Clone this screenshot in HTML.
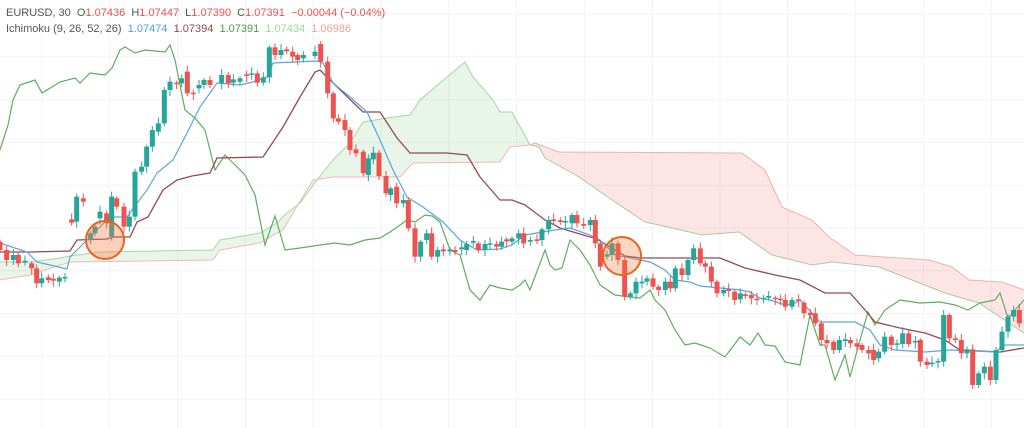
<!DOCTYPE html>
<html><head><meta charset="utf-8"><style>
html,body{margin:0;padding:0;background:#fff;width:1024px;height:428px;overflow:hidden}
#hdr{position:absolute;left:6px;top:5px;font:11px "Liberation Sans",sans-serif;color:#555;line-height:16px}
.r{color:#ef5350}
</style></head><body>
<svg id="s" width="1024" height="428" style="position:absolute;left:0;top:0">
<g stroke="#f0f3f6" stroke-width="1" id="grid"></g>
<polygon fill="rgba(76,175,80,0.13)" points="0,262 30,262 60,258 70,256 100,252 213,250 220,240 260,233 277,223 287,213 300,203 317,180 333,160 350,143 363,122 387,118 410,115 420,100 440,83 465,62 473,77 493,100 500,112 512,112 530,145 510,147 500,162 413,163 400,177 333,177 313,180 293,213 283,230 277,233 260,243 220,250 213,260 70,262 30,275 0,280"/>
<polyline fill="none" stroke="#a5d6a7" stroke-width="1" points="0,262 30,262 60,258 70,256 100,252 213,250 220,240 260,233 277,223 287,213 300,203 317,180 333,160 350,143 363,122 387,118 410,115 420,100 440,83 465,62 473,77 493,100 500,112 512,112 530,145 539,147 545,158 579,177 612,200 645,222 672,228 702,235 739,232 772,255 812,265 832,262 879,267 912,280 945,293 979,303 1024,333"/>
<polyline fill="none" stroke="#f2b8b5" stroke-width="1" points="0,280 30,275 70,262 213,260 220,250 260,243 277,233 283,230 293,213 313,180 333,177 400,177 413,163 500,162 510,147 530,145 535,143 559,152 742,153 765,170 782,207 812,220 829,237 855,255 929,260 952,267 969,280 1002,282 1024,290"/>
<polygon fill="rgba(239,83,80,0.15)" points="530,145 535,143 559,152 742,153 765,170 782,207 812,220 829,237 855,255 929,260 952,267 969,280 1002,282 1024,290 1024,333 979,303 945,293 912,280 879,267 832,262 812,265 772,255 739,232 702,235 672,228 645,222 612,200 579,177 545,158 539,147"/>
<polyline fill="none" stroke="#5fae5f" stroke-width="1.2" points="0,150 8,125 13,100 20,85 35,80 42,93 60,82 75,78 80,83 90,73 105,75 112,68 120,50 125,47 135,53 145,50 165,52 170,45 175,60 185,110 195,118 205,130 215,170 225,155 235,165 245,175 255,195 265,245 275,216 285,250 300,248 320,245 335,243 350,245 365,240 380,238 390,232 400,225 407,220 415,222 425,215 432,216 440,222 450,250 460,255 470,290 480,300 490,285 500,288 512,290 520,285 525,280 530,290 545,250 550,265 555,270 562,268 570,240 580,250 590,265 600,285 615,295 630,297 640,298 650,290 655,300 665,310 675,330 685,345 695,343 710,348 725,357 740,337 750,345 758,333 765,345 775,346 785,362 800,365 810,315 820,345 825,345 835,380 845,355 850,377 860,340 868,312 875,325 885,310 900,300 920,303 940,302 955,305 968,310 980,303 995,300 1000,293 1008,318 1024,300"/>
<polyline fill="none" stroke="#954a50" stroke-width="1.3" points="0,252 30,252 70,251 77,240 107,239 113,237 130,237 137,222 148,217 163,190 177,180 192,176 210,173 217,158 263,157 283,127 300,97 315,72 320,70 330,80 363,112 380,112 397,138 410,153 447,153 467,155 480,177 493,192 500,200 512,200 525,205 545,220 560,228 590,237 595,238 625,256 640,258 720,258 745,268 775,275 800,280 825,293 850,293 865,310 875,322 900,328 925,333 945,340 960,350 1000,352 1024,348"/>
<polyline fill="none" stroke="#5aa6e0" stroke-width="1.2" points="0,243 27,252 37,262 67,269 70,257 85,242 110,217 127,217 137,203 147,190 157,173 173,160 187,133 200,107 217,83 240,85 253,82 267,77 273,63 317,61 323,63 333,83 350,97 367,112 380,140 393,170 407,197 423,207 443,222 460,240 477,250 500,249 512,245 525,235 555,230 570,228 590,235 600,240 615,255 640,260 650,262 665,270 675,280 690,282 700,286 740,290 750,292 760,298 770,300 785,305 795,303 800,300 820,322 855,322 870,330 880,345 895,350 925,352 950,350 995,352 1005,345 1024,345"/>
<g id="c"></g>
<circle cx="105" cy="240" r="19" fill="rgba(255,120,60,0.35)" stroke="#e8651e" stroke-width="2"/>
<circle cx="622" cy="256" r="19" fill="rgba(255,120,60,0.3)" stroke="#e8651e" stroke-width="2"/>
</svg>
<div id="hdr">EURUSD, 30 &nbsp;O<span class="r">1.07436</span> &nbsp;H<span class="r">1.07447</span> &nbsp;L<span class="r">1.07390</span> &nbsp;C<span class="r">1.07391</span> &nbsp;<span class="r">−0.00044 (−0.04%)</span><br>Ichimoku (9, 26, 52, 26) &nbsp;<span style="color:#4a9fdc">1.07474</span> &nbsp;<span style="color:#8e4a55">1.07394</span> &nbsp;<span style="color:#4a9e4a">1.07391</span> &nbsp;<span style="color:#9fd49f">1.07434</span> &nbsp;<span style="color:#f0a0a0">1.06986</span></div>
<script>
var ns="http://www.w3.org/2000/svg",g=document.getElementById('grid'),c=document.getElementById('c');
function el(t,a,p){var e=document.createElementNS(ns,t);for(var k in a)e.setAttribute(k,a[k]);p.appendChild(e);}
for(var x=42;x<1024;x+=67.8)el('line',{x1:x,y1:0,x2:x,y2:428},g);
for(var y=14;y<428;y+=42.8)el('line',{x1:0,y1:y,x2:1024,y2:y},g);
var L=[[0,605,630,'r'],[20,630,660,'r'],[40,645,660,'g'],[55,645,670,'r'],[75,662,668,'g'],[95,670,685,'r'],[110,685,730,'r'],[125,715,730,'g'],[145,712,720,'r'],[160,716,722,'r'],[178,713,725,'g'],[195,711,715,'g'],
[215,538,548,'r'],[230,470,545,'g'],[250,475,485,'r'],[272,580,600,'g'],[285,560,580,'g'],[300,515,535,'g'],[320,520,550,'r'],[335,470,590,'g'],[350,475,500,'r'],[372,500,560,'r'],[388,530,560,'g'],[405,395,530,'g'],[425,380,395,'g'],[440,320,380,'g'],[457,270,320,'g'],[475,250,275,'g'],[493,150,250,'g'],[510,125,150,'g'],[530,128,132,'r'],[545,115,130,'g'],[562,95,160,'r'],[580,158,162,'r'],[597,135,145,'g'],[612,120,135,'g'],[630,120,135,'r'],[665,105,130,'g'],[685,105,130,'r'],[700,118,128,'g'],[720,115,125,'g'],[740,103,108,'r'],[755,100,104,'g'],[772,100,128,'r'],[790,112,128,'g'],[808,22,112,'g'],[825,22,45,'r'],[843,30,45,'g'],[860,28,34,'r'],[878,35,50,'r'],[893,45,60,'r'],[910,45,55,'g'],[945,35,48,'g'],[962,12,65,'r'],[983,65,160,'r'],[1000,160,235,'r'],[1015,235,245,'r'],[1035,240,270,'r'],[1050,270,330,'r'],[1068,328,340,'r'],[1090,335,400,'r'],[1105,355,405,'g'],[1120,338,358,'g'],[1137,338,408,'r'],[1158,408,460,'r'],[1172,445,465,'g'],[1190,440,490,'r'],[1210,480,490,'g'],[1225,480,565,'r'],[1245,565,650,'r'],[1262,605,650,'g'],[1280,580,600,'g'],[1295,580,650,'r'],[1313,630,650,'g'],[1330,628,634,'r'],[1350,628,634,'g'],[1365,630,636,'r'],[1385,622,628,'g'],[1400,612,630,'g'],[1420,603,608,'g'],[1435,610,630,'r'],[1455,612,630,'g'],[1470,610,614,'g'],[1490,612,620,'r'],[1505,605,620,'g'],[1520,598,604,'r']];
var R=[[0,295,305,'g'],[20,280,295,'g'],[35,280,310,'r'],[55,300,305,'g'],[75,298,303,'r'],[90,268,300,'g'],[110,240,268,'g'],[125,238,243,'r'],[145,241,246,'r'],[160,243,247,'g'],[180,225,250,'g'],[195,225,250,'r'],[215,252,257,'r'],[235,240,255,'g'],[250,240,310,'r'],[265,310,380,'r'],[285,343,350,'g'],[300,310,345,'g'],[318,310,360,'r'],[338,360,470,'r'],[355,460,470,'g'],[372,425,460,'g'],[390,425,430,'g'],[405,415,425,'g'],[423,415,440,'r'],[440,440,450,'r'],[460,425,450,'g'],[475,425,445,'r'],[490,385,445,'g'],[510,385,405,'r'],[528,360,405,'g'],[545,325,360,'g'],[565,325,370,'r'],[580,370,380,'r'],[598,380,425,'r'],[615,425,460,'r'],[635,450,460,'g'],[650,448,453,'r'],[668,455,480,'r'],[685,460,478,'g'],[700,463,468,'r'],[718,465,475,'r'],[735,476,480,'r'],[755,474,478,'g'],[770,468,473,'g'],[790,473,477,'r'],[805,476,480,'r'],[820,480,500,'r'],[840,480,500,'g'],[860,478,483,'r'],[876,488,520,'r'],[895,518,525,'r'],[910,520,550,'r'],[928,550,600,'r'],[945,600,610,'r'],[965,605,630,'r'],[982,600,630,'g'],[1000,598,603,'g'],[1015,600,610,'r'],[1035,610,620,'r'],[1050,615,630,'r'],[1070,630,640,'r'],[1085,630,660,'r'],[1100,635,655,'g'],[1118,590,635,'g'],[1138,590,615,'r'],[1155,610,614,'g'],[1172,580,612,'g'],[1190,580,612,'r'],[1210,603,607,'g'],[1225,600,665,'r'],[1245,665,675,'r'],[1260,668,672,'g'],[1278,663,667,'g'],[1295,525,665,'g'],[1312,525,595,'r'],[1330,595,600,'r'],[1348,600,640,'r'],[1365,628,640,'g'],[1382,628,735,'r'],[1400,700,735,'g'],[1417,680,700,'g'],[1435,680,720,'r'],[1452,630,720,'g'],[1470,575,630,'g'],[1488,530,575,'g'],[1505,510,530,'g'],[1522,510,550,'r']];
function draw(a,ox,oy){a.forEach(function(k,i){var x=ox+k[0]/3,t=oy+k[1]/3,b=oy+k[2]/3,col=k[3]=='g'?'#26a69a':'#ef5350';
var w=2+((i*7)%5);
el('line',{x1:x,y1:t-w,x2:x,y2:b+3+((i*3)%4),stroke:col,'stroke-width':1},c);
el('rect',{x:x-2.5,y:t,width:5,height:Math.max(1.5,b-t),fill:col},c);});}
draw(L,0,40);draw(R,512,140);
</script>
</body></html>
